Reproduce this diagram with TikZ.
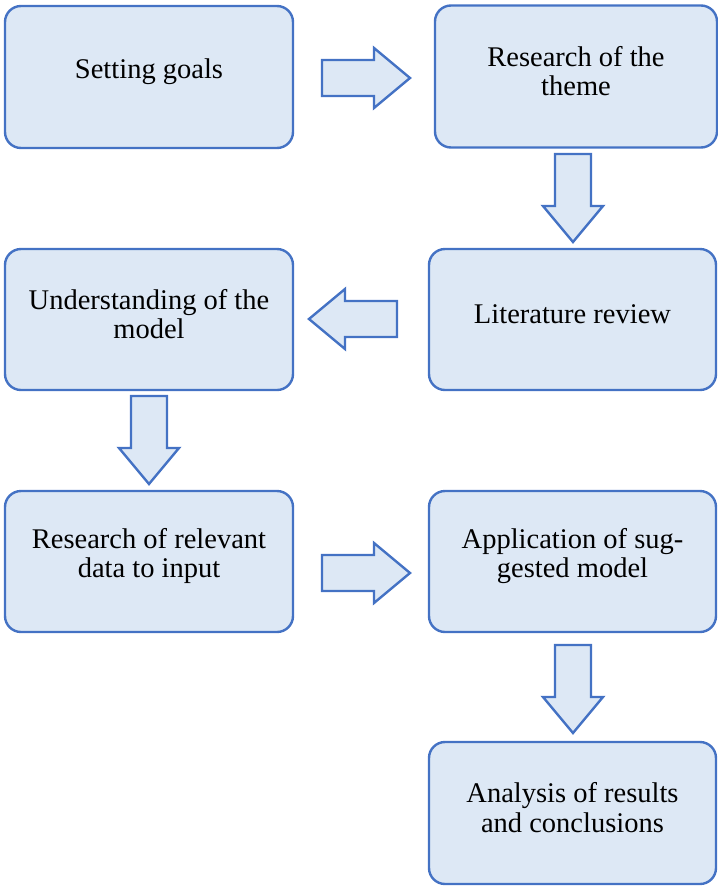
\documentclass[tikz,border=0pt]{standalone}
\usepackage{fontspec}
\setmainfont{Liberation Serif}
\definecolor{boxline}{RGB}{68,114,196}
\definecolor{boxfill}{RGB}{221,232,245}
\tikzset{
  stepbox/.style={draw=boxline, fill=boxfill, line width=2.4pt, rounded corners=16pt, inner sep=0pt},
  steptext/.style={align=center, font=\fontsize{28.5}{29.5}\selectfont, inner sep=0pt, yshift=5.5pt},
  blockarrow/.pic={
    \draw[draw=boxline, fill=boxfill, line width=2.4pt, line join=miter]
      (0,-18) -- (52,-18) -- (52,-30) -- (88,0) -- (52,30) -- (52,18) -- (0,18) -- cycle;
  }
}
\begin{document}
\begin{tikzpicture}[x=1pt,y=-1pt]
\useasboundingbox (0,0) rectangle (718,887);
% boxes
\node[stepbox, minimum width=288pt, minimum height=142pt] (b1) at (149,77) {};
\node[stepbox, minimum width=282pt, minimum height=142pt] (b2) at (576,76.5) {};
\node[stepbox, minimum width=287pt, minimum height=141pt] (b3) at (572.5,319.5) {};
\node[stepbox, minimum width=288pt, minimum height=141pt] (b4) at (149,319.5) {};
\node[stepbox, minimum width=288pt, minimum height=141pt] (b5) at (149,561.5) {};
\node[stepbox, minimum width=287pt, minimum height=141pt] (b6) at (572.5,561.5) {};
\node[stepbox, minimum width=287pt, minimum height=142pt] (b7) at (572.5,813) {};
% texts
\node[steptext] (t1) at (b1.center) {Setting goals};
\node[steptext] (t2) at (b2.center) {Research of the\\theme};
\node[steptext] (t3) at (b3.center) {Literature review};
\node[steptext] (t4) at (b4.center) {Understanding of the\\model};
\node[steptext] (t5) at (b5.center) {Research of relevant\\data to input};
\node[steptext] (t6) at (b6.center) {Application of sug-\\gested model};
\node[steptext] (t7) at (b7.center) {Analysis of results\\and conclusions};
% block arrows
\coordinate (a1) at (322,78);
\coordinate (a2) at (573,154);
\coordinate (a3) at (397,319);
\coordinate (a4) at (149,396);
\coordinate (a5) at (322,573);
\coordinate (a6) at (573,645);
\pic at (a1) {blockarrow};
\pic[rotate=-90] at (a2) {blockarrow};
\pic[rotate=180] at (a3) {blockarrow};
\pic[rotate=-90] at (a4) {blockarrow};
\pic at (a5) {blockarrow};
\pic[rotate=-90] at (a6) {blockarrow};
\end{tikzpicture}
\end{document}
